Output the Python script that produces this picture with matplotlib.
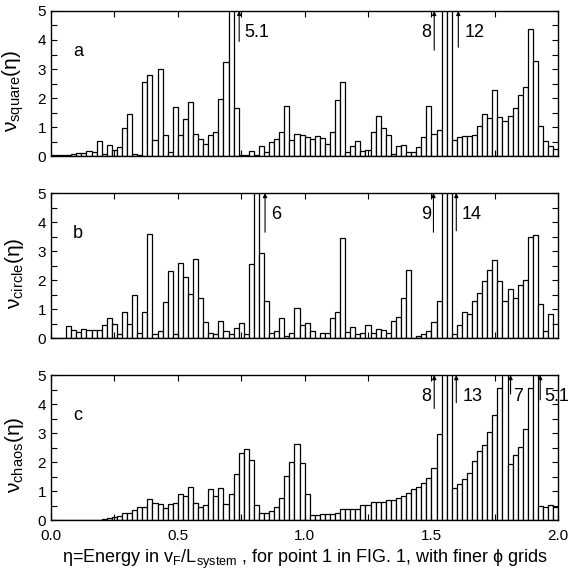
import matplotlib
matplotlib.use("Agg")
import matplotlib.pyplot as plt
import numpy as np

plt.rcParams['font.family'] = ['Liberation Sans', 'DejaVu Sans']
plt.rcParams['mathtext.fontset'] = 'custom'
plt.rcParams['mathtext.rm'] = 'Liberation Sans'
plt.rcParams['mathtext.default'] = 'regular'

# histogram bins: 100 bins of width 0.02 on [0, 2]
bin_width = 0.02
bin_left = np.arange(100) * bin_width

# panel a: square billiard
nu_square = [
    0.02, 0.03, 0.02, 0.05, 0.08, 0.10, 0.10, 0.16, 0.14, 0.52,
    0.06, 0.39, 0.22, 0.31, 0.97, 1.46, 0.06, 0.05, 2.55, 2.79,
    0.56, 3.01, 0.72, 0.14, 1.69, 0.74, 1.29, 1.85, 0.75, 0.59,
    0.40, 0.71, 0.83, 1.98, 3.24, 5.1, 1.67, 0.05, 0.02, 0.17,
    0.02, 0.36, 0.14, 0.48, 0.60, 0.83, 1.74, 0.54, 0.77, 0.72,
    0.66, 0.60, 0.68, 0.63, 0.43, 0.83, 1.92, 2.55, 0.14, 0.34,
    0.52, 0.17, 0.22, 0.82, 1.37, 0.97, 0.71, 0.08, 0.33, 0.39,
    0.14, 0.14, 0.30, 0.66, 1.72, 0.77, 0.89, 8.0, 12.0, 0.56,
    0.66, 0.68, 0.68, 0.71, 1.05, 1.46, 1.32, 2.26, 1.34, 1.20,
    1.37, 1.66, 2.10, 2.38, 4.39, 3.28, 1.05, 0.52, 0.34, 0.25,
]

# panel b: circle billiard
nu_circle = [
    0.0, 0.0, 0.0, 0.42, 0.29, 0.21, 0.31, 0.27, 0.27, 0.29,
    0.46, 0.68, 0.48, 0.15, 0.91, 0.48, 1.48, 0.17, 0.89, 3.60,
    0.14, 0.26, 1.23, 2.31, 0.14, 2.60, 2.11, 1.52, 2.72, 1.40,
    0.54, 0.19, 0.14, 0.58, 0.23, 0.14, 0.34, 0.51, 0.14, 2.55,
    6.0, 2.95, 1.28, 0.17, 0.23, 0.68, 0.09, 0.17, 1.03, 0.46,
    0.51, 0.23, 0.0, 0.17, 0.19, 0.71, 0.89, 3.46, 0.21, 0.40,
    0.14, 0.19, 0.46, 0.19, 0.31, 0.27, 0.17, 0.60, 0.72, 1.37,
    2.34, 0.0, 0.08, 0.14, 0.23, 0.57, 1.28, 9.0, 14.0, 0.14,
    0.46, 0.91, 0.82, 1.28, 1.54, 1.96, 2.34, 2.69, 1.97, 1.28,
    1.68, 1.40, 1.83, 2.02, 3.50, 3.54, 1.18, 0.26, 0.84, 0.0,
]

# panel c: chaotic billiard
nu_chaos = [
    0.0, 0.0, 0.0, 0.0, 0.0, 0.0, 0.0, 0.0, 0.0, 0.0,
    0.03, 0.07, 0.12, 0.15, 0.24, 0.24, 0.35, 0.46, 0.47, 0.73,
    0.59, 0.55, 0.41, 0.55, 0.59, 0.92, 0.84, 1.16, 0.58, 0.44,
    0.52, 1.06, 0.82, 1.10, 0.55, 0.89, 1.59, 2.32, 2.47, 2.07,
    0.53, 0.24, 0.26, 0.33, 0.47, 0.77, 1.53, 2.02, 2.63, 1.96,
    0.90, 0.18, 0.18, 0.23, 0.23, 0.23, 0.26, 0.40, 0.40, 0.40,
    0.40, 0.53, 0.51, 0.62, 0.62, 0.62, 0.68, 0.68, 0.76, 0.84,
    0.94, 1.09, 1.13, 1.27, 1.47, 1.79, 2.97, 8.0, 13.0, 1.11,
    1.24, 1.41, 1.62, 2.05, 2.40, 2.60, 3.05, 3.64, 4.54, 7.0,
    1.92, 2.23, 2.53, 3.16, 4.57, 5.1, 0.48, 0.46, 0.52, 0.45,
]

panel_values = [nu_square, nu_circle, nu_chaos]
panel_letters = ['a', 'b', 'c']
panel_ylabels = ['ν$_{square}$(η)', 'ν$_{circle}$(η)', 'ν$_{chaos}$(η)']

# off-scale bars: (arrow x, arrow bottom, label, label x, label side)
panel_arrows = [
    [(0.742, 3.95, '5.1', 0.762, 'left'),
     (1.511, 3.65, '8', 1.500, 'right'),
     (1.606, 3.75, '12', 1.632, 'left')],
    [(0.844, 3.65, '6', 0.866, 'left'),
     (1.508, 3.65, '9', 1.500, 'right'),
     (1.598, 3.70, '14', 1.618, 'left')],
    [(1.511, 3.85, '8', 1.498, 'right'),
     (1.598, 4.05, '13', 1.622, 'left'),
     (1.812, 4.35, '7', 1.822, 'left'),
     (1.929, 4.15, '5.1', 1.944, 'left')],
]

fig = plt.figure(figsize=(5.69, 5.78), dpi=100)
left, width, height = 0.0896, 0.8915, 0.251
bottoms = [0.730, 0.415, 0.100]

for k in range(3):
    ax = fig.add_axes([left, bottoms[k], width, height])
    ax.bar(bin_left, panel_values[k], width=bin_width, align='edge',
           facecolor='white', edgecolor='black', linewidth=0.9)
    ax.set_xlim(0, 2)
    ax.set_ylim(0, 5)
    ax.set_xticks(np.arange(0, 2.01, 0.5))
    ax.set_xticks(np.arange(0.25, 2.0, 0.5), minor=True)
    ax.set_yticks(range(6))
    ax.set_yticks(np.arange(0.5, 5, 1.0), minor=True)
    ax.tick_params(which='both', direction='in', top=True, right=True,
                   labelsize=11, length=4, width=0.8)
    ax.tick_params(axis='x', pad=6)
    if k < 2:
        ax.tick_params(labelbottom=False)
    ax.set_ylabel(panel_ylabels[k], fontsize=15, labelpad=0)
    ax.yaxis.set_label_coords(-0.05, 0.45)
    ax.text(0.087, 3.6, panel_letters[k], fontsize=13, va='center')
    for (xa, yb, lab, xl, side) in panel_arrows[k]:
        ax.annotate('', xy=(xa, 5.0), xytext=(xa, yb),
                    arrowprops=dict(arrowstyle='-|>', lw=0.8, color='black',
                                    mutation_scale=6, shrinkA=0, shrinkB=0),
                    annotation_clip=False)
        ax.text(xl, 4.25, lab, fontsize=13, ha=side, va='center', clip_on=False)
    for s in ax.spines.values():
        s.set_linewidth(1.0)
    if k == 2:
        ax.set_xlabel('η=Energy in v$_F$/L$_{system}$ , for point 1 in FIG. 1, with finer ϕ grids',
                      fontsize=13, labelpad=4)

fig.savefig('out.png', dpi=100)
